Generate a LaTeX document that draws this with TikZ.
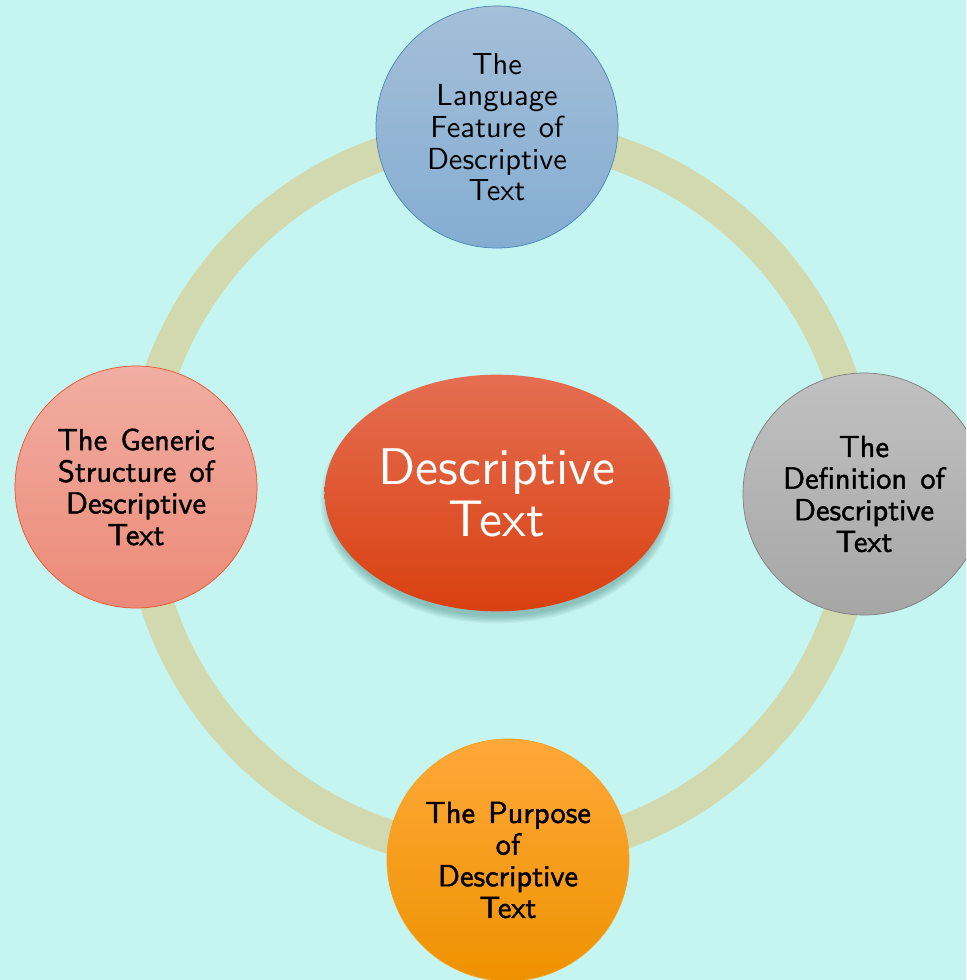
\documentclass[tikz,border=0pt]{standalone}
\usepackage{fontspec}
\usepackage{tikz}
\usetikzlibrary{shapes.geometric}
\newfontfamily\plainsans[WordSpace=1.3]{lmsans10-regular.otf}
\newfontfamily\heavysans[FakeBold=1.4,WordSpace=1.3]{lmsans10-regular.otf}
\definecolor{sky}{HTML}{C5F5F0}
\definecolor{band}{HTML}{D3D9AE}
\definecolor{blueA}{HTML}{A4BFD8}
\definecolor{blueB}{HTML}{84ADD2}
\definecolor{blueE}{HTML}{4A86B6}
\definecolor{pinkA}{HTML}{F1AEA2}
\definecolor{pinkB}{HTML}{EC8A78}
\definecolor{pinkE}{HTML}{E8552F}
\definecolor{greyA}{HTML}{C1C1C1}
\definecolor{greyB}{HTML}{A6A6A6}
\definecolor{greyE}{HTML}{7F7F7F}
\definecolor{orA}{HTML}{FFA83A}
\definecolor{orB}{HTML}{EE9200}
\definecolor{orE}{HTML}{F7A21E}
\definecolor{redA}{HTML}{E56E52}
\definecolor{redB}{HTML}{D94010}
\definecolor{dusk}{HTML}{2E6A66}
\tikzset{ring/.style={draw=band, line width=1.02cm}}
\tikzset{bubble/.style={circle, minimum size=7.26cm, inner sep=0pt, align=center,
    font=\heavysans\fontsize{26}{27}\selectfont, line width=0.6pt}}
\tikzset{hub/.style={ellipse, minimum width=10.35cm, minimum height=7.1cm, inner sep=0pt,
    align=center, text=white, font=\plainsans\fontsize{44}{45}\selectfont,
    top color=redA, bottom color=redB}}

\begin{document}
\begin{tikzpicture}[x=0.03cm, y=-0.03cm]
\clip (0,0) rectangle (966,980);
\fill[sky] (0,0) rectangle (966,980);

\coordinate (mid) at (500,494);
\draw[ring] (mid) circle (10.8cm);

% the four topics round the ring
\node[bubble, draw=blueE, top color=blueA, bottom color=blueB, font=\plainsans\fontsize{26}{27}\selectfont] (language) at (497,127)
    {The\\Language\\Feature of\\Descriptive\\Text};
\node[bubble, draw=greyE, top color=greyA, bottom color=greyB] (definition) at (864,494)
    {The\\Definition of\\Descriptive\\Text};
\node[bubble, draw=orE, top color=orA, bottom color=orB] (purpose) at (508,860)
    {The Purpose\\of\\Descriptive\\Text};
\node[bubble, draw=pinkE, top color=pinkA, bottom color=pinkB] (structure) at (136,487)
    {The Generic\\Structure of\\Descriptive\\Text};

% soft shadow under the centre
\foreach \k in {0,...,5}
  \fill[dusk, opacity=0.07] (497,500) ellipse ({5.05cm+\k*0.05cm} and {3.5cm+\k*0.04cm});
\node[hub] (topic) at (497,493) {Descriptive\\Text};
\end{tikzpicture}
\end{document}
